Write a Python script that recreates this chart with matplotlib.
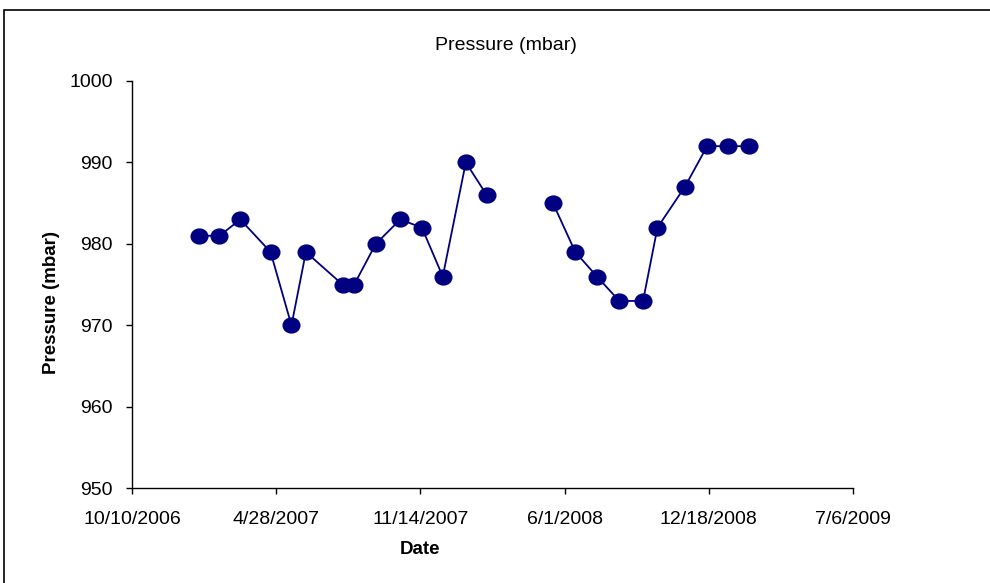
#!/usr/bin/env python3
"""Pressure (mbar) time series - Excel style scatter with lines"""

import numpy as np
import pandas as pd
import matplotlib
matplotlib.use('Agg')
import matplotlib.pyplot as plt
from matplotlib.path import Path
from matplotlib.patches import Rectangle

# Measurement dates (one gap in spring 2008, no reading)
dates = [
    "2007-01-11", "2007-02-08", "2007-03-09", "2007-04-20", "2007-05-19",
    "2007-06-08", "2007-07-29", "2007-08-14", "2007-09-13", "2007-10-17",
    "2007-11-16", "2007-12-15", "2008-01-16", "2008-02-14", "2008-03-31",
    "2008-05-16", "2008-06-16", "2008-07-16", "2008-08-16", "2008-09-18",
    "2008-10-08", "2008-11-15", "2008-12-16", "2009-01-14", "2009-02-12",
]
pressure = [
    981, 981, 983, 979, 970,
    979, 975, 975, 980, 983,
    982, 976, 990, 986, np.nan,
    985, 979, 976, 973, 973,
    982, 987, 992, 992, 992,
]

x_start = "2006-10-10"
x_end = "2009-07-06"
x_step_days = 200
y_ticks = [950, 960, 970, 980, 990, 1000]

FONT = 'Liberation Sans'
NAVY = '#000080'


def make_chart():
    fig = plt.figure(figsize=(9.9, 5.83), dpi=100, facecolor='white')
    ax = fig.add_axes([0.1336, 0.1624, 0.7277, 0.6987])

    x = pd.to_datetime(dates)
    y = np.array(pressure, dtype=float)

    # slightly wide ellipse marker like Excel's round marker
    circle = Path.unit_circle()
    ellipse = Path(circle.vertices * np.array([1.12, 1.0]), circle.codes)

    ax.plot(x, y, color=NAVY, lw=1.3, marker=ellipse, markersize=12,
            markerfacecolor=NAVY, markeredgecolor=NAVY)

    start = pd.Timestamp(x_start)
    end = pd.Timestamp(x_end)
    xticks = pd.date_range(start, end, freq=f'{x_step_days}D')
    ax.set_xlim(start, end)
    ax.set_xticks(xticks)
    ax.set_xticklabels([f"{d.month}/{d.day}/{d.year}" for d in xticks],
                       fontsize=14, fontfamily=FONT)
    ax.set_ylim(950, 1000)
    ax.set_yticks(y_ticks)
    ax.set_yticklabels([str(v) for v in y_ticks], fontsize=14, fontfamily=FONT)

    for side in ['top', 'right']:
        ax.spines[side].set_visible(False)
    for side in ['left', 'bottom']:
        ax.spines[side].set_linewidth(1.0)
        ax.spines[side].set_color('black')
    ax.tick_params(axis='both', direction='out', length=4, width=1.0, color='black')
    ax.tick_params(axis='x', pad=12)
    ax.tick_params(axis='y', pad=10)

    fig.text(505.5 / 990, 1 - 45 / 583, "Pressure (mbar)", fontsize=14,
             fontfamily=FONT, ha='center', va='center')
    fig.text(51.7 / 990, 1 - 302 / 583, "Pressure (mbar)", fontsize=13.5,
             fontweight='bold', fontfamily=FONT, rotation=90,
             ha='center', va='center')
    fig.text(420 / 990, 1 - 549 / 583, "Date", fontsize=13.5,
             fontweight='bold', fontfamily=FONT, ha='center', va='center')

    # outer chart border (runs off the right and bottom edges)
    fig.patches.append(Rectangle((4 / 990, -0.05), 1.1, 1.05 - 10.5 / 583,
                                 transform=fig.transFigure, fill=False,
                                 edgecolor='black', lw=1.2, clip_on=False))

    fig.savefig('out.png', dpi=100, facecolor='white')
    plt.close(fig)


def main():
    make_chart()


if __name__ == "__main__":
    main()
